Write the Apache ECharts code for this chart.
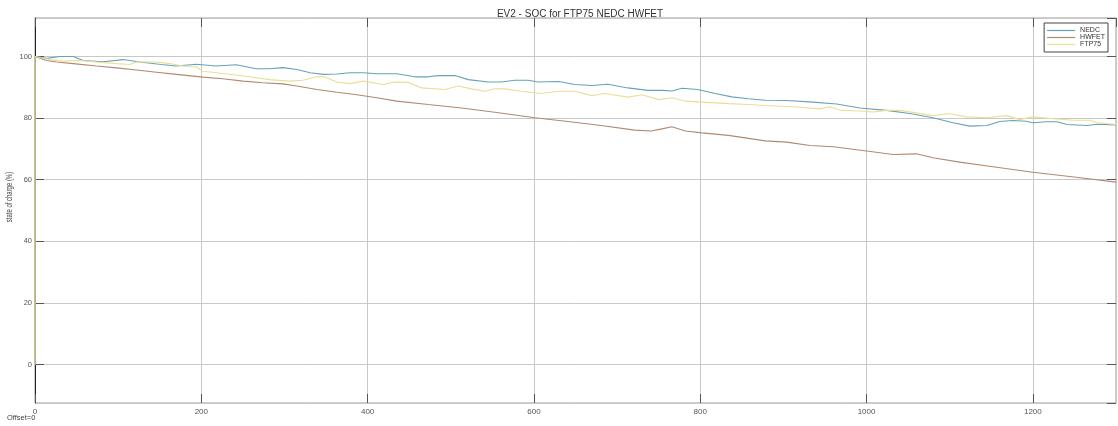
<!DOCTYPE html>
<html>
<head>
<meta charset="utf-8">
<script src="https://cdn.jsdelivr.net/npm/echarts@6/dist/echarts.min.js"></script>
<style>
  html, body { margin: 0; padding: 0; background: #ffffff; }
  #chart { width: 1118px; height: 426px; }
</style>
</head>
<body>
<div id="chart"></div>
<script>
// Battery state of charge (%) over time for three drive cycles
const titleText = 'EV2 - SOC for FTP75 NEDC HWFET';
const yAxisTitle = 'state of charge (%)';
const offsetText = 'Offset=0';
const seriesNames = ['NEDC', 'HWFET', 'FTP75'];

const nedcTime = [0, 0, 2, 14, 30, 46, 58, 82, 106, 126, 152, 170, 194, 218, 242, 266, 282, 298, 315, 331, 347, 363, 379, 395, 411, 435, 457, 473, 485, 505, 521, 545, 561, 577, 593, 605, 630, 649, 670, 689, 713, 737, 754, 766, 778, 797, 818, 838, 858, 878, 904, 936, 964, 992, 1024, 1052, 1080, 1104, 1124, 1145, 1160, 1176, 1192, 1200, 1216, 1229, 1241, 1265, 1277, 1300];
const nedcSoc = [0, 100, 100, 99.4, 100, 100, 98.7, 98.3, 99.0, 98.2, 97.4, 96.9, 97.5, 96.9, 97.3, 96.0, 96.0, 96.4, 95.8, 94.7, 94.2, 94.3, 94.7, 94.7, 94.4, 94.4, 93.4, 93.4, 93.8, 93.8, 92.5, 91.7, 91.7, 92.3, 92.3, 91.7, 91.9, 90.9, 90.6, 91.0, 89.8, 89.0, 89.0, 88.8, 89.7, 89.3, 88.0, 86.9, 86.3, 85.8, 85.7, 85.2, 84.6, 83.3, 82.5, 81.5, 80.1, 78.5, 77.4, 77.6, 78.9, 79.2, 79.0, 78.5, 78.8, 78.8, 77.9, 77.6, 78.0, 77.8];

const hwfetTime = [0, 0, 2, 14, 26, 46, 74, 98, 122, 146, 170, 202, 226, 250, 274, 298, 315, 339, 363, 387, 411, 435, 473, 513, 553, 601, 641, 681, 721, 741, 754, 766, 782, 802, 834, 878, 904, 932, 960, 1000, 1032, 1060, 1080, 1112, 1152, 1200, 1252, 1300];
const hwfetSoc = [0, 100, 100, 98.7, 98.2, 97.7, 96.9, 96.3, 95.6, 94.9, 94.2, 93.3, 92.8, 92.0, 91.5, 91.1, 90.4, 89.3, 88.4, 87.6, 86.6, 85.5, 84.4, 83.3, 81.9, 80.1, 78.9, 77.6, 76.1, 75.8, 76.5, 77.2, 75.8, 75.2, 74.4, 72.6, 72.2, 71.1, 70.7, 69.3, 68.2, 68.4, 67.1, 65.7, 64.2, 62.4, 60.8, 59.2];

const ftp75Time = [0, 0, 2, 18, 34, 54, 74, 98, 114, 122, 146, 162, 178, 194, 202, 226, 258, 282, 306, 322, 339, 347, 363, 379, 395, 419, 433, 449, 465, 493, 509, 525, 541, 553, 565, 585, 609, 629, 649, 670, 685, 713, 730, 750, 766, 782, 802, 834, 858, 878, 912, 944, 956, 968, 992, 1008, 1024, 1040, 1060, 1080, 1100, 1120, 1145, 1169, 1184, 1200, 1225, 1249, 1269, 1277, 1300];
const ftp75Soc = [0, 100, 100, 99.0, 98.5, 98.7, 98.2, 97.7, 97.4, 98.2, 98.2, 97.7, 96.9, 96.6, 95.2, 94.5, 93.4, 92.5, 92.0, 92.3, 93.4, 93.5, 91.7, 91.2, 92.0, 90.9, 91.7, 91.6, 89.8, 89.3, 90.4, 89.5, 88.7, 89.5, 89.5, 88.7, 88.0, 88.7, 88.7, 87.3, 88.0, 86.8, 87.6, 86.0, 86.6, 85.5, 85.2, 84.7, 84.4, 84.1, 83.7, 83.0, 83.7, 82.6, 82.3, 82.0, 82.5, 82.5, 81.7, 80.8, 81.5, 80.4, 80.1, 80.8, 79.5, 80.4, 79.8, 79.3, 79.3, 78.5, 77.9];

const seriesColors = ['#67a3b7', '#b08a70', '#ecdd98'];

function pairs(times, values) {
  return times.map((t, i) => [t, values[i]]);
}

const chart = echarts.init(document.getElementById('chart'), null, { renderer: 'canvas' });

const fontFamily = '"Liberation Sans", Arial, sans-serif';
const tickStyle = { show: true, inside: true, length: 9, lineStyle: { color: '#555', width: 1 } };
const gridLineStyle = { color: '#c8c8c8', width: 1 };
const plainNumber = v => String(v);

const option = {
  backgroundColor: '#ffffff',
  animation: false,
  textStyle: { fontFamily: fontFamily },
  title: {
    text: titleText,
    left: 575,
    textAlign: 'center',
    top: 4,
    textStyle: { fontSize: 10, fontWeight: 'normal', color: '#333', fontFamily: fontFamily }
  },
  legend: {
    data: seriesNames,
    orient: 'vertical',
    right: 10,
    top: 23,
    padding: [4, 3, 4, 3],
    itemGap: 0,
    icon: 'rect',
    itemWidth: 28,
    itemHeight: 1.2,
    backgroundColor: '#ffffff',
    borderColor: '#444',
    borderWidth: 1,
    borderRadius: 0,
    textStyle: { fontSize: 7, lineHeight: 6, color: '#333', fontFamily: fontFamily }
  },
  grid: {
    left: 35, right: 2, top: 18, bottom: 23,
    show: true, borderColor: '#9c9c9c', borderWidth: 1,
    containLabel: false
  },
  xAxis: [
    {
      type: 'value', min: 0, max: 1300,
      minInterval: 200, maxInterval: 200,
      axisLine: { show: false, onZero: false },
      axisTick: tickStyle,
      splitLine: { show: true, lineStyle: gridLineStyle },
      axisLabel: { fontSize: 8, color: '#555', margin: 5, showMaxLabel: false, formatter: plainNumber, fontFamily: fontFamily }
    },
    {
      type: 'value', position: 'top', min: 0, max: 1300,
      minInterval: 200, maxInterval: 200,
      axisLine: { show: false, onZero: false },
      axisTick: tickStyle,
      splitLine: { show: false },
      axisLabel: { show: false }
    }
  ],
  yAxis: [
    {
      type: 'value', min: -12.5, max: 112.5,
      minInterval: 20, maxInterval: 20,
      axisLine: { show: true, onZero: false, lineStyle: { color: '#222', width: 1 } },
      axisTick: tickStyle,
      splitLine: { show: true, lineStyle: gridLineStyle },
      axisLabel: { fontSize: 7.5, color: '#555', margin: 3, showMinLabel: false, showMaxLabel: false, formatter: plainNumber, fontFamily: fontFamily }
    },
    {
      type: 'value', position: 'right', min: -12.5, max: 112.5,
      minInterval: 20, maxInterval: 20,
      axisLine: { show: false, onZero: false },
      axisTick: tickStyle,
      splitLine: { show: false },
      axisLabel: { show: false }
    }
  ],
  graphic: [
    {
      type: 'text',
      x: 10, y: 197,
      rotation: Math.PI / 2,
      scaleX: 0.7,
      style: {
        text: yAxisTitle, fontSize: 8.5, fill: '#444', fontFamily: fontFamily,
        textAlign: 'center', textVerticalAlign: 'middle'
      }
    },
    {
      type: 'text',
      left: 7, top: 414,
      style: { text: offsetText, fontSize: 7.5, fill: '#444', fontFamily: fontFamily }
    }
  ],
  series: [
    { name: seriesNames[0], data: pairs(nedcTime, nedcSoc) },
    { name: seriesNames[1], data: pairs(hwfetTime, hwfetSoc) },
    { name: seriesNames[2], data: pairs(ftp75Time, ftp75Soc) }
  ].map((s, i) => ({
    name: s.name,
    type: 'line',
    data: s.data,
    showSymbol: false,
    symbol: 'none',
    smooth: false,
    color: seriesColors[i],
    lineStyle: { color: seriesColors[i], width: 1.1 }
  }))
};

chart.setOption(option);
</script>
</body>
</html>
